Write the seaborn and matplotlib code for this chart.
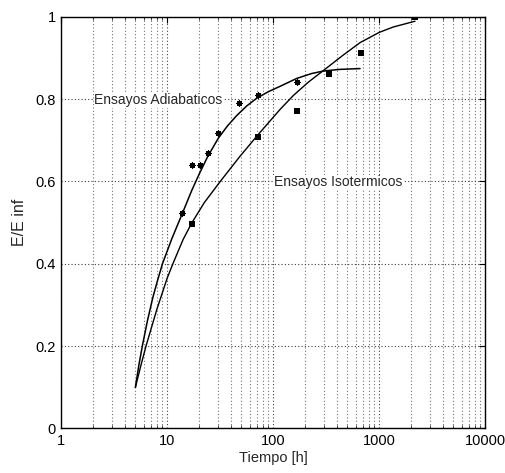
import matplotlib
matplotlib.use("Agg")
import matplotlib.pyplot as plt
import matplotlib.ticker as mticker
import numpy as np
import seaborn as sns

# Measured stiffness ratio E/E_inf versus curing time
adiab_t = [13.9, 17.0, 20.2, 24.2, 30.1, 47.8, 72.2, 168]
adiab_e = [0.524, 0.640, 0.640, 0.669, 0.718, 0.790, 0.809, 0.841]

isot_t = [17.0, 72.2, 168, 338, 676, 2187]
isot_e = [0.496, 0.707, 0.770, 0.860, 0.911, 1.0]

# Fitted trend curves
adiab_fit_t = [5.0, 5.4, 5.81, 6.5, 7.3, 8.1, 9.0, 11.0, 13.85, 17.0, 20.0, 24.0,
               30.3, 37.0, 45.2, 56.0, 69.7, 90.0, 116, 166, 230, 296, 420, 658]
adiab_fit_e = [0.100, 0.155, 0.200, 0.262, 0.318, 0.360, 0.400, 0.460, 0.522, 0.578,
               0.618, 0.660, 0.705, 0.735, 0.760, 0.783, 0.802, 0.818, 0.831, 0.850,
               0.862, 0.868, 0.872, 0.874]

isot_fit_t = [5.0, 5.62, 6.31, 7.94, 10.0, 11.5, 14.1, 17.0, 22.4, 31.6, 48.5, 72.1,
              116, 155, 214, 296, 447, 658, 1000, 1355, 2172]
isot_fit_e = [0.100, 0.152, 0.201, 0.288, 0.366, 0.405, 0.459, 0.499, 0.549, 0.600,
              0.661, 0.714, 0.775, 0.809, 0.841, 0.869, 0.905, 0.937, 0.962, 0.975,
              0.989]

y_ticks = [0, 0.2, 0.4, 0.6, 0.8, 1.0]
y_tick_labels = ["0", "0.2", "0.4", "0.6", "0.8", "1"]
x_ticks = [1, 10, 100, 1000, 10000]
x_tick_labels = ["1", "10", "100", "1000", "10000"]

sns.set_style("white")
plt.rcParams["font.family"] = ["Liberation Sans", "DejaVu Sans"]

fig = plt.figure(figsize=(5.05, 4.73), dpi=100)
ax = fig.add_axes([0.1214, 0.0941, 0.8396, 0.8706])

sns.lineplot(x=adiab_fit_t, y=adiab_fit_e, ax=ax, color="black", lw=1.1,
             sort=False, estimator=None, zorder=3)
sns.lineplot(x=isot_fit_t, y=isot_fit_e, ax=ax, color="black", lw=1.0,
             sort=False, estimator=None, zorder=3)
sns.scatterplot(x=adiab_t, y=adiab_e, ax=ax, marker=(8, 2, 0), s=14,
                color="black", linewidth=0.9, zorder=4)
sns.scatterplot(x=isot_t, y=isot_e, ax=ax, marker="s", s=16,
                color="black", linewidth=0, zorder=4)

ax.set_xscale("log")
ax.set_xlim(1, 10000)
ax.set_ylim(0, 1)
ax.set_xticks(x_ticks)
ax.set_xticklabels(x_tick_labels)
ax.set_yticks(y_ticks)
ax.set_yticklabels(y_tick_labels)
ax.xaxis.set_minor_locator(mticker.LogLocator(base=10, subs=np.arange(2, 10), numticks=50))
ax.xaxis.set_minor_formatter(mticker.NullFormatter())

ax.grid(which="major", axis="both", linestyle=(0, (1, 2)), color="0.25", lw=0.8)
ax.grid(which="minor", axis="x", linestyle=(0, (1, 2)), color="0.45", lw=0.8)

ax.tick_params(which="major", direction="in", length=4, width=0.8,
               top=True, right=True, labelsize=10.5, pad=4, colors="black")
ax.tick_params(which="minor", direction="in", length=2, width=0.6,
               top=True, bottom=True)
for sp in ax.spines.values():
    sp.set_color("black")
    sp.set_linewidth(1.0)

ax.set_xlabel("Tiempo [h]", fontsize=10.5, labelpad=2)
ax.set_ylabel("E/E inf", fontsize=11.5, labelpad=6)

ax.text(2.05, 0.788, "Ensayos Adiabaticos", fontsize=10, ha="left", va="baseline",
        bbox=dict(facecolor="white", edgecolor="none", pad=0.5), zorder=2)
ax.text(101.6, 0.588, "Ensayos Isotermicos", fontsize=10, ha="left", va="baseline",
        bbox=dict(facecolor="white", edgecolor="none", pad=0.5), zorder=2)

fig.savefig("out.png", dpi=100, facecolor="white")
